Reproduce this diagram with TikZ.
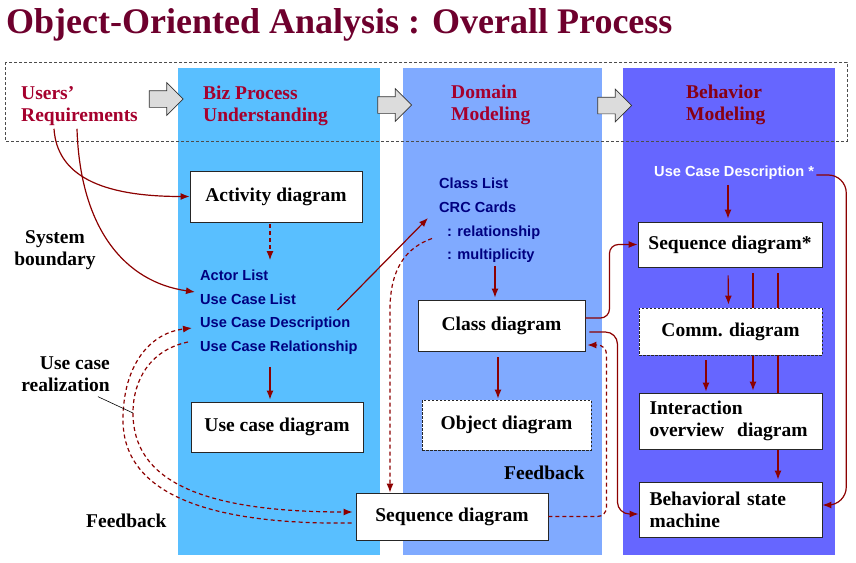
\documentclass[tikz,border=0pt]{standalone}
\usepackage{fontspec}
\setmainfont{Liberation Serif}
\setsansfont{Liberation Sans}
\usetikzlibrary{positioning,arrows.meta,shapes.arrows,backgrounds}
\usepackage{xcolor}
\definecolor{titlered}{RGB}{110,0,45}
\definecolor{headred}{RGB}{165,0,45}
\definecolor{behred}{RGB}{135,0,20}
\definecolor{flowred}{RGB}{140,0,0}
\definecolor{listblue}{RGB}{0,0,128}
\definecolor{bizblue}{RGB}{89,191,255}
\definecolor{domblue}{RGB}{128,170,255}
\definecolor{behblue}{RGB}{102,102,255}
\definecolor{blockgray}{RGB}{220,220,220}

\begin{document}
\begin{tikzpicture}[x=1pt, y=-1pt,
      font=\fontsize{19.5}{22}\selectfont\bfseries,
      box/.style={
        draw=black!85, line width=0.9pt, fill=white,
        align=center, inner sep=2pt
      },
      dbox/.style={box, dash pattern=on 2.5pt off 1.5pt},
      lst/.style={
        font=\sffamily\bfseries\fontsize{14.6}{17}\selectfont,
        text=listblue, inner sep=2pt, anchor=west,
        text height=0.75em, text depth=0.2em
      },
      head/.style={text=headred, align=left, anchor=west, inner sep=0pt},
      lbl/.style={inner sep=0pt},
      blk/.style={
        single arrow, draw=black!80, fill=blockgray, line width=0.7pt,
        inner xsep=0pt, inner ysep=8pt, minimum height=34pt,
        single arrow head extend=8pt
      },
      arr/.style={-{Latex[length=9pt,width=7pt]}, flowred, line width=1.2pt},
      darr/.style={arr, dash pattern=on 4pt off 3pt}
    ]
  \useasboundingbox (0,0) rectangle (856,562);

  % columns
  \begin{scope}[on background layer]
    \fill[bizblue] (178,68) rectangle (380,555);
    \fill[domblue] (403,68) rectangle (602,555);
    \fill[behblue] (623,68) rectangle (835,555);
  \end{scope}
  \draw[black!70, line width=0.8pt, dash pattern=on 3pt off 2pt] (5,62) rectangle (847,141);

  \node[anchor=west, inner sep=0pt, text=titlered,
        font=\fontsize{36}{40}\selectfont\bfseries] (title) at (6,25)
    {Object-Oriented Analysis : Overall Process};

  % header row
  \node[head] (ureq) at (21,106) {Users'\\Requirements};
  \node[head] (bizh) at (203,106) {Biz Process\\Understanding};
  \node[head] (domh) at (451,105) {Domain\\Modeling};
  \node[head, text=behred] (behh) at (686,105) {Behavior\\Modeling};
  \node[blk] (blk1) at (162,99) {};
  \node[blk] (blk2) at (390.5,105) {};
  \node[blk] (blk3) at (610.5,105.5) {};

  % biz process column
  \node[box, minimum width=172pt, minimum height=51pt] (act) at (276,196.5)
    {Activity diagram};
  \node[lst] (al) at (198,278) {Actor List};
  \node[lst] (ucl) at (198,301.5) {Use Case List};
  \node[lst] (ucdesc) at (198,325) {Use Case Description};
  \node[lst] (ucrel) at (198,349) {Use Case Relationship};
  \node[box, minimum width=172pt, minimum height=50pt] (ucd) at (277,427)
    {Use case diagram};

  % domain column
  \node[lst] (clist) at (437,186) {Class List};
  \node[lst] (crc) at (437,210) {CRC Cards};
  \node[lst] (rel) at (445,233.5) {: relationship};
  \node[lst] (mult) at (445,257) {: multiplicity};
  \node[box, minimum width=167pt, minimum height=51pt] (cls) at (501.5,325.5)
    {Class diagram};
  \node[dbox, minimum width=169pt, minimum height=50pt] (obj) at (506.5,425)
    {Object diagram};
  \node[box, minimum width=192pt, minimum height=47pt] (seqb) at (452,516.5)
    {Sequence diagram};

  % behavior column
  \node[lst, text=white] (ucdstar) at (652,174) {Use Case Description *};
  \node[box, minimum width=184pt, minimum height=45pt] (seqs) at (730,244.5)
    {Sequence diagram*};
  \node[dbox, minimum width=183pt, minimum height=47pt] (comm) at (730.5,331.5)
    {Comm. diagram};
  \node[box, minimum width=183pt, minimum height=56pt, align=left,
        text width=162pt] (iod) at (730.5,421)
    {Interaction\\overview\ \ diagram};
  \node[box, minimum width=183pt, minimum height=55pt, align=left,
        text width=162pt] (bsm) at (730.5,509.5)
    {Behavioral state\\machine};

  % side labels
  \node[lbl, align=center] (sysb) at (55,250) {System\\boundary};
  \node[lbl, align=right, anchor=east] (ucrlbl) at (110,374) {Use case\\realization};
  \node[lbl, anchor=west] (fbl) at (86,521) {Feedback};
  \node[lbl, anchor=west] (fbm) at (504,473) {Feedback};
  \coordinate (ucrpt) at (133,413);

  % connectors
  \draw[arr] ([xshift=33pt,yshift=-3pt]ureq.south west)
    .. controls +(3,46) and +(-90,0) .. (act.west);
  \draw[arr] ([xshift=56pt,yshift=-3pt]ureq.south west)
    .. controls +(3,100) and +(-70,-10) .. ([xshift=-3pt,yshift=9.5pt]ucl.west);
  \draw[darr, shorten <=2pt, shorten >=11pt]
    ([xshift=-6pt]act.south) -- ([xshift=-6pt]act.south |- al.north);
  \draw[arr] ([xshift=-15pt,yshift=8pt]ucdesc.north east)
    -- ([xshift=-9pt,yshift=-8pt]crc.west);
  \draw[arr, shorten <=11pt, shorten >=2pt]
    ([xshift=-7pt]ucd.north |- ucrel.south) -- ([xshift=-7pt]ucd.north);
  \draw[darr] ([xshift=-10pt,yshift=7pt]ucrel.west)
    .. controls (150,350) and (133,380) .. (ucrpt)
    .. controls (133,480) and (200,512) .. ([xshift=-3pt,yshift=4.5pt]seqb.west);
  \draw[darr] ([xshift=-4pt,yshift=-6.5pt]seqb.west)
    .. controls (200,525) and (123,490) .. (123,420)
    .. controls (123,365) and (150,333) .. ([xshift=-6pt,yshift=-3pt]ucdesc.west);
  \draw[black, line width=0.6pt] ([xshift=-12pt,yshift=-5pt]ucrlbl.south east) -- (ucrpt);
  \draw[darr] ([xshift=-13pt,yshift=-5pt]rel.west)
    .. controls (405,248) and (390,270) .. (390,310) -- ([xshift=-62pt]seqb.north);
  \draw[arr, shorten <=2pt, shorten >=2pt]
    ([xshift=-6.5pt]cls.north |- mult.south) -- ([xshift=-6.5pt]cls.north);
  \draw[arr, shorten <=6pt, shorten >=1pt]
    ([xshift=-3.5pt]cls.south) -- ([xshift=-3.5pt]cls.south |- obj.north);
  \draw[arr, rounded corners=9pt] ([yshift=7.5pt]cls.east) -- ++(24,0) |- (seqs.west);
  \draw[arr, rounded corners=12pt] ([xshift=4pt,yshift=-6.5pt]cls.east)
    -- ++(28,0) |- ([yshift=-4.5pt]bsm.west);
  \draw[darr, rounded corners=9pt] (seqb.east) -- ++(58,0)
    |- ([xshift=2pt,yshift=-19.5pt]cls.east);
  \draw[arr, shorten <=4pt, shorten >=3pt]
    ([xshift=-2pt]seqs.north |- ucdstar.south) -- ([xshift=-2pt]seqs.north);
  \draw[arr, rounded corners=18pt] ([yshift=-1pt]ucdstar.east) -- ++(30,0)
    |- ([yshift=4.5pt]bsm.east);
  \draw[arr, shorten <=8pt, shorten >=3pt]
    ([xshift=-2pt]seqs.south) -- ([xshift=-2pt]comm.north);
  \draw[arr, shorten <=5pt, shorten >=1pt]
    ([xshift=-24.5pt]comm.south) -- ([xshift=-24.5pt]iod.north);
  \begin{scope}[on background layer]
    \draw[arr, shorten <=6pt, shorten >=2pt]
      ([xshift=23pt]seqs.south) -- ([xshift=22.5pt]iod.north);
    \draw[arr, shorten <=6pt, shorten >=2pt]
      ([xshift=48pt]seqs.south) -- ([xshift=47.5pt]bsm.north);
  \end{scope}
\end{tikzpicture}
\end{document}
